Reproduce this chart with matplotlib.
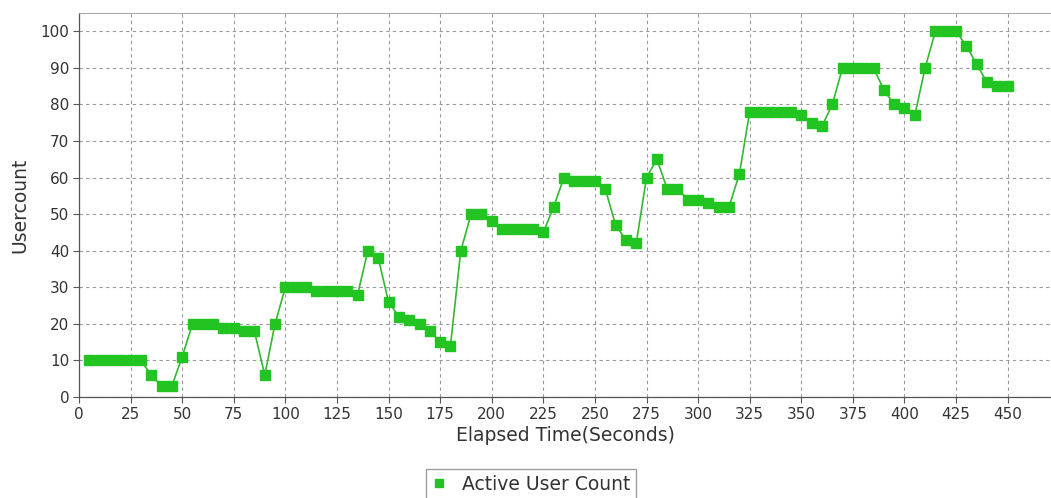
import matplotlib.pyplot as plt
from matplotlib.lines import Line2D

# elapsed time (seconds) and active user count
seconds = list(range(5, 455, 5))
users = [10, 10, 10, 10, 10, 10, 6, 3, 3, 11,
         20, 20, 20, 19, 19, 18, 18, 6, 20, 30,
         30, 30, 29, 29, 29, 29, 28, 40, 38, 26,
         22, 21, 20, 18, 15, 14, 40, 50, 50, 48,
         46, 46, 46, 46, 45, 52, 60, 59, 59, 59,
         57, 47, 43, 42, 60, 65, 57, 57, 54, 54,
         53, 52, 52, 61, 78, 78, 78, 78, 78, 77,
         75, 74, 80, 90, 90, 90, 90, 84, 80, 79,
         77, 90, 100, 100, 100, 96, 91, 86, 85, 85]
x_ticks = list(range(0, 475, 25))
y_ticks = list(range(0, 110, 10))

green = '#22c422'
line_green = '#33b833'

fig = plt.figure(figsize=(10.51, 4.98), dpi=100)
ax = fig.add_axes([79 / 1051, 101 / 498, 1 - 79 / 1051, 384 / 498])

ax.plot(seconds, users, color=line_green, linewidth=1.2, marker='s',
        markersize=7, markerfacecolor=green, markeredgecolor=green, zorder=3)

ax.set_xlim(0, 471)
ax.set_ylim(0, 105)
ax.set_xticks(x_ticks)
ax.set_yticks(y_ticks)
ax.tick_params(axis='both', labelsize=11, length=4, width=0.8, color='#555555',
               labelcolor='#333333', pad=3)
ax.grid(True, color='#999999', linestyle=(0, (3, 3)), linewidth=0.8)
ax.set_axisbelow(True)

for side in ['left', 'bottom']:
    ax.spines[side].set_color('#555555')
    ax.spines[side].set_linewidth(0.9)
ax.spines['top'].set_color('#aaaaaa')
ax.spines['right'].set_visible(False)

ax.set_xlabel('Elapsed Time(Seconds)', fontsize=13.5, color='#333333', labelpad=3)
ax.set_ylabel('Usercount', fontsize=13.5, color='#333333', labelpad=8)

handle = Line2D([], [], linestyle='none', marker='s', markersize=6,
                markerfacecolor=green, markeredgecolor=green)
fig.legend([handle], ['Active User Count'], loc='center',
           bbox_to_anchor=(531 / 1051, 1 - 484 / 498), fontsize=13.5,
           frameon=True, fancybox=False, edgecolor='#888888',
           handlelength=0.8, handletextpad=0.8, borderpad=0.3,
           labelcolor='#333333')

fig.savefig('out.png', dpi=100, facecolor='white')
